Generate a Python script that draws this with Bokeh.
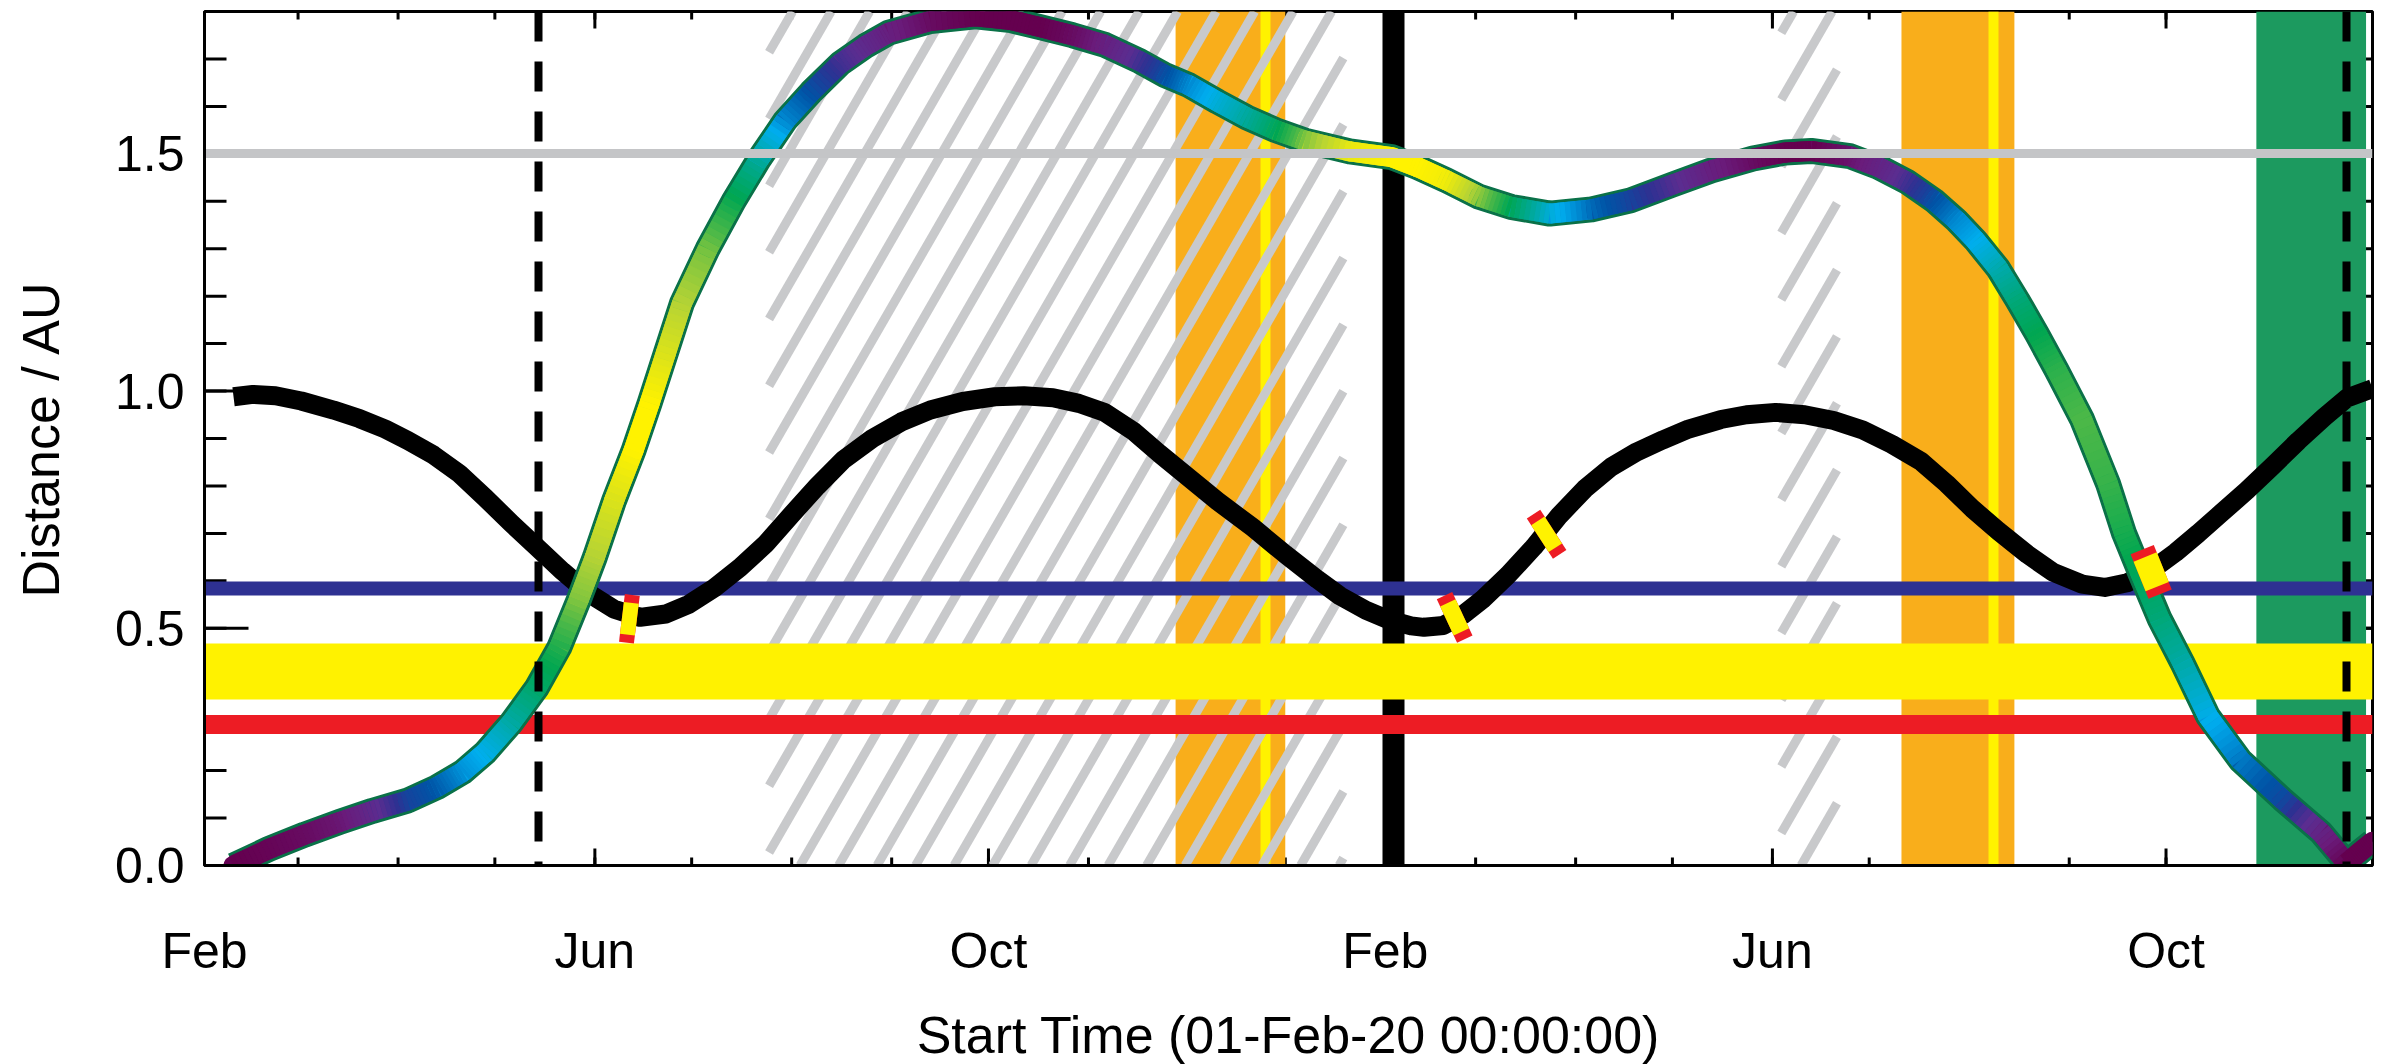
import numpy as np
import pandas as pd
from bokeh.plotting import figure
from bokeh.models import FixedTicker, PrintfTickFormatter, Range1d
from bokeh.embed import file_html
from bokeh.resources import INLINE

T0 = pd.Timestamp("2020-02-01")


def days(s):
    return float((pd.Timestamp(s) - T0) / pd.Timedelta(days=1))


# ---------------- data (days since 01-Feb-2020) ----------------
# Solar Orbiter - Sun distance (AU)
sun_day = [9, 15, 22, 30, 40, 48, 56, 63, 71, 79, 87, 95, 103, 111, 119, 127, 135, 143, 150, 158,
           166, 174, 182, 190, 198, 207, 216, 225, 235, 245, 254, 263, 271, 279, 288, 296, 305, 314,
           325, 335, 345, 352, 360, 367, 374, 378, 384, 390, 396, 404, 412, 420, 428, 436, 444, 452,
           460, 470, 478, 487, 496, 505, 514, 523, 532, 540, 548, 556, 565, 573, 582, 589, 596, 603,
           611, 618, 625, 633, 641, 649, 657, 664, 672]
sun_au = [0.988, 0.993, 0.990, 0.979, 0.960, 0.942, 0.920, 0.896, 0.865, 0.826, 0.775, 0.722, 0.671,
          0.620, 0.574, 0.540, 0.523, 0.530, 0.550, 0.585, 0.628, 0.678, 0.740, 0.800, 0.855, 0.900,
          0.935, 0.960, 0.978, 0.988, 0.990, 0.986, 0.974, 0.955, 0.915, 0.868, 0.818, 0.768, 0.712,
          0.656, 0.603, 0.568, 0.538, 0.518, 0.505, 0.502, 0.506, 0.528, 0.560, 0.612, 0.671, 0.738,
          0.795, 0.840, 0.872, 0.897, 0.920, 0.940, 0.950, 0.955, 0.950, 0.938, 0.918, 0.888, 0.852,
          0.805, 0.752, 0.705, 0.656, 0.618, 0.593, 0.586, 0.596, 0.620, 0.660, 0.700, 0.742, 0.790,
          0.842, 0.895, 0.945, 0.985, 1.005]

# Solar Orbiter - Earth distance (AU) and the colour index drawn along it
earth_day = [9, 20, 31, 42, 52, 63, 72, 80, 87, 95, 103, 110, 116, 121, 127, 133, 138, 143, 148, 156,
             164, 172, 180, 188, 197, 205, 212, 225, 239, 250, 259, 269, 279, 290, 298, 305, 314, 323,
             332, 341, 355, 368, 376, 385, 395, 405, 417, 430, 442, 455, 467, 480, 490, 498, 510, 519,
             528, 536, 543, 549, 556, 562, 568, 574, 582, 590, 595, 600, 606, 613, 621, 631, 644, 656,
             664, 668, 672]
earth_au = [0.000, 0.035, 0.065, 0.092, 0.115, 0.137, 0.165, 0.197, 0.238, 0.300, 0.375, 0.460, 0.560,
            0.650, 0.770, 0.875, 0.975, 1.080, 1.185, 1.300, 1.400, 1.490, 1.570, 1.630, 1.690, 1.728,
            1.755, 1.780, 1.790, 1.782, 1.767, 1.750, 1.730, 1.695, 1.665, 1.645, 1.610, 1.577, 1.550,
            1.528, 1.505, 1.493, 1.472, 1.444, 1.410, 1.388, 1.374, 1.383, 1.402, 1.435, 1.465, 1.490,
            1.503, 1.506, 1.495, 1.472, 1.440, 1.402, 1.360, 1.317, 1.258, 1.191, 1.120, 1.045, 0.940,
            0.805, 0.700, 0.617, 0.520, 0.428, 0.315, 0.222, 0.140, 0.070, 0.005, 0.028, 0.050]
earth_cidx = [0.00, 0.02, 0.05, 0.10, 0.22, 0.38, 0.44, 0.51, 0.56, 0.64, 0.72, 0.78, 0.86, 0.90, 0.95,
              1.00, 1.00, 0.95, 0.90, 0.85, 0.76, 0.65, 0.50, 0.42, 0.30, 0.22, 0.15, 0.05, 0.00, 0.00,
              0.00, 0.05, 0.15, 0.30, 0.42, 0.50, 0.58, 0.65, 0.74, 0.86, 0.97, 1.00, 1.00, 0.98, 0.87,
              0.74, 0.58, 0.46, 0.38, 0.27, 0.15, 0.05, 0.00, 0.00, 0.08, 0.18, 0.30, 0.42, 0.50, 0.55,
              0.63, 0.70, 0.75, 0.79, 0.82, 0.80, 0.77, 0.74, 0.70, 0.64, 0.56, 0.48, 0.40, 0.18, 0.00,
              0.00, 0.00]

# reference distances (AU)
gray_au = 1.5
blue_au = 0.583
red_au = 0.298
yellow_band_au = [0.35, 0.468]

# periods / events
hatch_start = ["2020-07-25", "2021-06-03 18:00"]
hatch_end = ["2021-01-19", "2021-06-21"]
orange_start = ["2020-11-28", "2021-07-11"]
orange_end = ["2021-01-01", "2021-08-15"]
venus_flyby = ["2020-12-26", "2021-08-08 12:00"]
green_start = ["2021-10-29"]
green_end = ["2021-12-02"]
dashed_dates = ["2020-05-14 12:00", "2021-11-26"]
now_date = ["2021-02-03 12:00"]

marker_day = [131.7, 387.5, 416.0, 603.4]
marker_au = [0.520, 0.523, 0.698, 0.619]

x_major_dates = ["2020-02-01", "2020-06-01", "2020-10-01", "2021-02-01", "2021-06-01", "2021-10-01"]
x_major_labels = ["Feb", "Jun", "Oct", "Feb", "Jun", "Oct"]
x_minor_dates = [str(d.date()) for d in pd.date_range("2020-02-01", "2021-12-01", freq="MS")]
y_major = [0.0, 0.5, 1.0, 1.5]
y_minor = [round(0.1 * i, 1) for i in range(19)]

# ---------------- layout / style ----------------
X_END = 672.0
Y_MAX = 1.8
FW, FH = 2168, 854
FONT = "Liberation Sans"

p = figure(frame_width=FW, frame_height=FH, x_range=Range1d(0, X_END), y_range=Range1d(0, Y_MAX),
           output_backend="svg", toolbar_location=None,
           min_border_left=204, min_border_right=9, min_border_top=11, min_border_bottom=0)
p.xgrid.visible = False
p.ygrid.visible = False
p.outline_line_color = "black"
p.outline_line_width = 3
p.background_fill_color = "white"
p.border_fill_color = "white"

xmaj = [int(days(d)) for d in x_major_dates]
xmin = [int(days(d)) for d in x_minor_dates]

# tick marks (drawn first so that the coloured bands cover them, as in the original)
TW = 3
p.ray(x=xmin, y=[0] * len(xmin), length=8, length_units="screen", angle=90, angle_units="deg",
      line_width=TW, line_color="black")
p.ray(x=xmaj, y=[0] * len(xmaj), length=17, length_units="screen", angle=90, angle_units="deg",
      line_width=TW, line_color="black")
p.ray(x=xmin, y=[Y_MAX] * len(xmin), length=8, length_units="screen", angle=-90, angle_units="deg",
      line_width=TW, line_color="black")
p.ray(x=xmaj, y=[Y_MAX] * len(xmaj), length=17, length_units="screen", angle=-90, angle_units="deg",
      line_width=TW, line_color="black")
p.ray(x=[0] * len(y_minor), y=y_minor, length=22, length_units="screen", angle=0, angle_units="deg",
      line_width=TW, line_color="black")
p.ray(x=[0] * len(y_major), y=y_major, length=44, length_units="screen", angle=0, angle_units="deg",
      line_width=TW, line_color="black")
p.ray(x=[X_END] * len(y_minor), y=y_minor, length=22, length_units="screen", angle=180, angle_units="deg",
      line_width=TW, line_color="black")
p.ray(x=[X_END] * len(y_major), y=y_major, length=44, length_units="screen", angle=180, angle_units="deg",
      line_width=TW, line_color="black")

# vertical bands
p.quad(left=[days(d) for d in orange_start], right=[days(d) for d in orange_end],
       bottom=0, top=Y_MAX, fill_color="#f9ae1b", line_color=None)
p.vspan(x=[days(d) for d in venus_flyby], line_width=10, line_color="#fff200")
p.quad(left=[days(d) for d in green_start], right=[days(d) for d in green_end],
       bottom=0, top=Y_MAX, fill_color="#1c9a5f", line_color=None)

# hatching at 60 degrees
px_day = FW / X_END
px_au = FH / Y_MAX
slope = np.tan(np.radians(60)) * px_day / px_au
spacing = 38.5 / px_day
phase = 182.3
hx0, hy0, hx1, hy1 = [], [], [], []
for s, e in zip(hatch_start, hatch_end):
    a, b = days(s), days(e)
    k0 = int(np.floor((a - phase) / spacing)) - 2
    k1 = int(np.ceil((b + Y_MAX / slope - phase) / spacing)) + 2
    for k in range(k0, k1 + 1):
        t = phase + k * spacing
        d0 = t - Y_MAX / slope
        ds, de = max(a, d0), min(b, t)
        if de - ds > 1e-6:
            hx0.append(ds); hy0.append(Y_MAX - (t - ds) * slope)
            hx1.append(de); hy1.append(Y_MAX - (t - de) * slope)
p.segment(hx0, hy0, hx1, hy1, line_color="#c8c9cb", line_width=9, line_cap="butt")

# solid black vertical line
p.vspan(x=[days(d) for d in now_date], line_width=22, line_color="black")

# horizontal references
p.hspan(y=[blue_au], line_width=14, line_color="#2e3192")
p.quad(left=0, right=X_END, bottom=yellow_band_au[0], top=yellow_band_au[1],
       fill_color="#fff200", line_color=None)
p.hspan(y=[red_au], line_width=19, line_color="#ed1c24")

# Sun distance curve
p.line(sun_day, sun_au, line_width=19, line_color="black", line_join="round")

# Earth distance curve, coloured by index
anchors = [(0.00, "#65004f"), (0.12, "#6a1b7a"), (0.25, "#5b2d90"), (0.33, "#2e3192"),
           (0.43, "#0054a6"), (0.55, "#00aeef"), (0.65, "#00a99d"), (0.75, "#00a651"),
           (0.82, "#4cb848"), (0.90, "#b5d335"), (1.00, "#fff200")]


def hex2rgb(h):
    return np.array([int(h[i:i + 2], 16) for i in (1, 3, 5)], dtype=float)


ap = np.array([a for a, _ in anchors])
ac = np.array([hex2rgb(c) for _, c in anchors])


def cmap(v):
    rgb = [np.interp(v, ap, ac[:, j]) for j in range(3)]
    return "#%02x%02x%02x" % tuple(int(round(c)) for c in rgb)


p.line(earth_day, earth_au, line_width=26, line_color="#0a7148", line_join="round")

# joints: round-capped pieces between consecutive readings
seg_x = [[earth_day[i], earth_day[i + 1]] for i in range(len(earth_day) - 1)]
seg_y = [[earth_au[i], earth_au[i + 1]] for i in range(len(earth_au) - 1)]
seg_c = [cmap(0.5 * (earth_cidx[i] + earth_cidx[i + 1])) for i in range(len(earth_cidx) - 1)]
p.multi_line(seg_x, seg_y, line_color=seg_c, line_width=20, line_cap="round")

# colour gradient along each straight piece (same geometry, finer colour steps)
NSUB = 8
gx, gy, gc = [], [], []
for i in range(len(earth_day) - 1):
    for j in range(NSUB):
        f0, f1 = j / NSUB, (j + 1) / NSUB
        gx.append([earth_day[i] + f0 * (earth_day[i + 1] - earth_day[i]),
                   earth_day[i] + f1 * (earth_day[i + 1] - earth_day[i])])
        gy.append([earth_au[i] + f0 * (earth_au[i + 1] - earth_au[i]),
                   earth_au[i] + f1 * (earth_au[i + 1] - earth_au[i])])
        fm = 0.5 * (f0 + f1)
        gc.append(cmap(earth_cidx[i] + fm * (earth_cidx[i + 1] - earth_cidx[i])))
p.multi_line(gx, gy, line_color=gc, line_width=20, line_cap="butt")

# gray 1.5 AU line
p.hspan(y=[gray_au], line_width=9, line_color="#c4c5c7")

# dashed vertical lines
p.vspan(x=[days(d) for d in dashed_dates], line_width=8, line_color="black", line_dash="30 20")

# markers on the Sun-distance curve
marker_w = [15, 17, 16, 25]
marker_angle = [-7, 25, 33, 22]
p.rect(x=marker_day, y=marker_au, width=marker_w, height=48, angle=marker_angle, angle_units="deg",
       width_units="screen", height_units="screen", fill_color="#ed1c24", line_color=None)
p.rect(x=marker_day, y=marker_au, width=marker_w, height=32, angle=marker_angle, angle_units="deg",
       width_units="screen", height_units="screen", fill_color="#fff200", line_color=None)

# axes
xa = p.xaxis[0]
xa.ticker = FixedTicker(ticks=xmaj, minor_ticks=[])
xa.major_label_overrides = {v: lab for v, lab in zip(xmaj, x_major_labels)}
xa.axis_label = "Start Time (01-Feb-20 00:00:00)"
xa.major_label_standoff = 57
xa.axis_label_standoff = 24

ya = p.yaxis[0]
ya.ticker = FixedTicker(ticks=y_major, minor_ticks=[])
ya.formatter = PrintfTickFormatter(format="%.1f")
ya.axis_label = "Distance / AU"
ya.major_label_standoff = 20
ya.axis_label_standoff = 42

for ax in (xa, ya):
    ax.major_tick_in = 0
    ax.major_tick_out = 0
    ax.minor_tick_in = 0
    ax.minor_tick_out = 0
    ax.axis_line_width = 3
    ax.axis_line_color = "black"
    ax.major_label_text_font = FONT
    ax.major_label_text_font_size = "50px"
    ax.major_label_text_color = "black"
    ax.axis_label_text_font = FONT
    ax.axis_label_text_font_size = "52px"
    ax.axis_label_text_font_style = "normal"
    ax.axis_label_text_color = "black"

open("out.html", "w").write(file_html(p, INLINE))
